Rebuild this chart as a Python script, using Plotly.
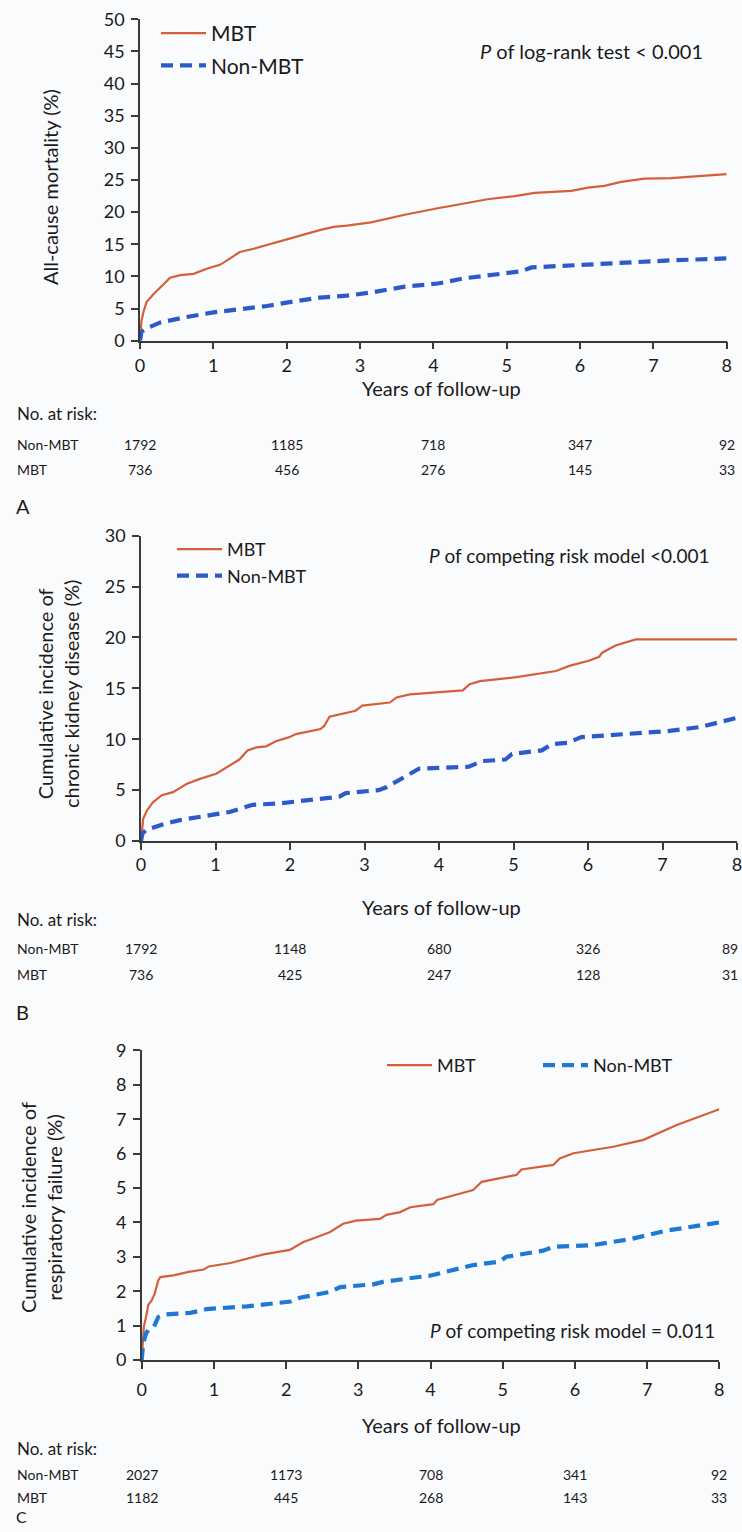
import plotly.graph_objects as go

W, H = 742, 1532
FONT = "Lato"
MBT_COLOR = "#d4603a"
NON_COLOR_AB = "#2d5ac8"
NON_COLOR_C = "#1f78d2"
TXT = "#1a1a1a"
AX = "#3a3a3a"
BG = "#fafbfd"

# ---------------- data ----------------
years_ticks = [0, 1, 2, 3, 4, 5, 6, 7, 8]
risk_years = [0, 2, 4, 6, 8]

# Panel A: all-cause mortality (%)
a_mbt_t = [0, 0.02, 0.05, 0.09, 0.18, 0.32, 0.41, 0.55, 0.73, 0.91, 1.09, 1.23, 1.36, 1.55, 1.73, 1.95,
           2.18, 2.45, 2.64, 2.82, 3.15, 3.38, 3.61, 4.06, 4.42, 4.74, 5.11, 5.38, 5.88, 6.11, 6.33,
           6.56, 6.88, 7.24, 8.0]
a_mbt_v = [0, 3.1, 4.6, 6.0, 7.2, 8.8, 9.8, 10.2, 10.4, 11.2, 11.8, 12.8, 13.8, 14.3, 14.9, 15.6,
           16.4, 17.2, 17.7, 17.9, 18.4, 19.0, 19.6, 20.6, 21.3, 22.0, 22.5, 23.0, 23.3, 23.8, 24.1,
           24.7, 25.2, 25.3, 25.9]
a_non_t = [0, 0.02, 0.09, 0.27, 0.59, 1.0, 1.36, 1.73, 2.09, 2.45, 2.82, 3.15, 3.61, 4.06, 4.42,
           4.97, 5.2, 5.34, 5.88, 6.56, 7.24, 8.0]
a_non_v = [0, 1.4, 1.9, 2.8, 3.6, 4.4, 4.9, 5.4, 6.1, 6.7, 7.0, 7.5, 8.4, 8.9, 9.7,
           10.5, 10.8, 11.4, 11.7, 12.2, 12.5, 12.8]
a_risk_non = ["1792", "1185", "718", "347", "92"]
a_risk_mbt = ["736", "456", "276", "145", "33"]

# Panel B: cumulative incidence of chronic kidney disease (%)
b_mbt_t = [0, 0.01, 0.03, 0.08, 0.16, 0.28, 0.43, 0.61, 0.79, 1.01, 1.19, 1.32, 1.43, 1.55, 1.68,
           1.81, 1.99, 2.08, 2.41, 2.46, 2.53, 2.88, 2.97, 3.34, 3.43, 3.61, 4.32, 4.41, 4.55, 5.04,
           5.57, 5.75, 6.01, 6.15, 6.19, 6.37, 6.64, 8.0]
b_mbt_v = [0, 1.1, 2.2, 3.0, 3.8, 4.5, 4.8, 5.6, 6.1, 6.6, 7.4, 8.0, 8.9, 9.2, 9.3,
           9.8, 10.2, 10.5, 11.0, 11.3, 12.2, 12.8, 13.3, 13.6, 14.1, 14.4, 14.8, 15.4, 15.7, 16.1,
           16.7, 17.2, 17.7, 18.1, 18.5, 19.2, 19.8, 19.8]
b_non_t = [0, 0.02, 0.07, 0.30, 0.52, 0.74, 0.92, 1.19, 1.32, 1.50, 1.86, 2.21, 2.53, 2.66, 2.75,
           2.97, 3.19, 3.30, 3.56, 3.73, 4.40, 4.58, 4.89, 4.98, 5.38, 5.51, 5.73, 5.91, 7.07, 7.51, 8.0]
b_non_v = [0, 0.75, 1.1, 1.65, 2.05, 2.3, 2.6, 2.85, 3.15, 3.55, 3.7, 3.95, 4.2, 4.35, 4.7,
           4.9, 5.0, 5.3, 6.4, 7.1, 7.3, 7.85, 8.0, 8.55, 8.9, 9.5, 9.65, 10.2, 10.8, 11.2, 12.1]
b_risk_non = ["1792", "1148", "680", "326", "89"]
b_risk_mbt = ["736", "425", "247", "128", "31"]

# Panel C: cumulative incidence of respiratory failure (%)
c_mbt_t = [0, 0.01, 0.03, 0.07, 0.09, 0.14, 0.18, 0.23, 0.26, 0.44, 0.65, 0.86, 0.93, 1.23, 1.46,
           1.69, 2.05, 2.15, 2.24, 2.42, 2.61, 2.79, 2.97, 3.30, 3.39, 3.58, 3.72, 4.04, 4.09, 4.59,
           4.71, 5.19, 5.26, 5.70, 5.79, 5.98, 6.53, 6.95, 7.41, 8.0]
c_mbt_v = [0, 0.3, 0.97, 1.35, 1.6, 1.74, 1.93, 2.32, 2.41, 2.46, 2.56, 2.63, 2.72, 2.82, 2.94,
           3.07, 3.2, 3.31, 3.43, 3.57, 3.72, 3.96, 4.05, 4.1, 4.22, 4.3, 4.44, 4.53, 4.65, 4.94,
           5.18, 5.38, 5.54, 5.67, 5.86, 6.01, 6.2, 6.4, 6.83, 7.29]
c_non_t = [0, 0.02, 0.06, 0.09, 0.17, 0.23, 0.30, 0.67, 0.81, 0.90, 1.46, 1.83, 2.06, 2.19, 2.61,
           2.75, 3.21, 3.34, 3.58, 3.76, 3.99, 4.59, 4.96, 5.05, 5.56, 5.70, 6.25, 6.76, 7.27, 8.0]
c_non_v = [0, 0.48, 0.77, 0.87, 0.97, 1.25, 1.32, 1.37, 1.43, 1.48, 1.56, 1.66, 1.70, 1.81, 1.98,
           2.12, 2.20, 2.27, 2.35, 2.39, 2.45, 2.76, 2.86, 3.0, 3.18, 3.29, 3.34, 3.51, 3.76, 4.0]
c_risk_non = ["2027", "1173", "708", "341", "92"]
c_risk_mbt = ["1182", "445", "268", "143", "33"]

# ---------------- helpers ----------------
def px(x):
    return x / W

def py(y):
    return 1 - y / H

fig = go.Figure()

panels = [
    dict(ax="", x0=140, x1=726.7, ytop=19.3, ybot=340.7, yr=[0, 50], dt=5, non_col=NON_COLOR_AB,
         mbt=(a_mbt_t, a_mbt_v), non=(a_non_t, a_non_v), legend="legend", stand=1),
    dict(ax="2", x0=141, x1=737, ytop=535.6, ybot=841, yr=[0, 30], dt=5, non_col=NON_COLOR_AB,
         mbt=(b_mbt_t, b_mbt_v), non=(b_non_t, b_non_v), legend="legend2", stand=0),
    dict(ax="3", x0=141.7, x1=719.3, ytop=1050.4, ybot=1360, yr=[0, 9], dt=1, non_col=NON_COLOR_C,
         mbt=(c_mbt_t, c_mbt_v), non=(c_non_t, c_non_v), legend="legend3", stand=6),
]

axis_common = dict(showline=True, linecolor=AX, linewidth=1.5, ticks="outside", ticklen=7,
                   tickcolor=AX, tickwidth=1.5, showgrid=False, zeroline=False, automargin=False,
                   tickfont=dict(family=FONT, size=18, color=TXT), fixedrange=True)

layout_axes = {}
for p in panels:
    a = p["ax"]
    xa = "x" + a
    ya = "y" + a
    fig.add_trace(go.Scatter(x=p["mbt"][0], y=p["mbt"][1], mode="lines", name="MBT",
                             line=dict(color=MBT_COLOR, width=2.2), xaxis=xa, yaxis=ya,
                             legend=p["legend"], legendgroup="m" + a, hoverinfo="skip"))
    fig.add_trace(go.Scatter(x=p["non"][0], y=p["non"][1], mode="lines", name="Non-MBT",
                             line=dict(color=p["non_col"], width=4.2, dash="12px,7px"),
                             xaxis=xa, yaxis=ya, legend=p["legend"], legendgroup="n" + a,
                             hoverinfo="skip"))
    layout_axes["xaxis" + a] = dict(axis_common, domain=[px(p["x0"]), px(p["x1"])], range=[0, 8],
                                    tickvals=years_ticks, anchor=ya, ticklabelstandoff=p["stand"],
                                    ticklabeloverflow="allow")
    layout_axes["yaxis" + a] = dict(axis_common, domain=[py(p["ybot"]), py(p["ytop"])],
                                    range=p["yr"], dtick=p["dt"], tick0=0, anchor=xa,
                                    ticklabelstandoff=3)

fig.update_layout(**layout_axes)

fig.update_layout(
    width=W, height=H, margin=dict(l=0, r=0, t=0, b=0, autoexpand=False),
    paper_bgcolor=BG, plot_bgcolor=BG,
    font=dict(family=FONT, color=TXT),
    legend=dict(x=px(156), y=py(13), xanchor="left", yanchor="top", bgcolor="rgba(0,0,0,0)",
                font=dict(family=FONT, size=21, color=TXT), itemwidth=45, tracegroupgap=2),
    legend2=dict(x=px(172), y=py(531), xanchor="left", yanchor="top", bgcolor="rgba(0,0,0,0)",
                 font=dict(family=FONT, size=18, color=TXT), itemwidth=45, tracegroupgap=0),
    legend3=dict(x=px(382), y=py(1047), xanchor="left", yanchor="top", bgcolor="rgba(0,0,0,0)",
                 orientation="h", entrywidth=96, entrywidthmode="pixels",
                 font=dict(family=FONT, size=18, color=TXT), itemwidth=45),
)

ann = []

def text(x, y, s, size, xanchor="left", xref="paper", angle=0, yanchor="middle"):
    ann.append(dict(x=x if xref != "paper" else px(x), y=py(y), xref=xref, yref="paper", text=s,
                    showarrow=False, xanchor=xanchor, yanchor=yanchor, textangle=angle,
                    font=dict(family=FONT, size=size, color=TXT)))

# y-axis titles
text(50, 187, "All-cause mortality (%)", 20, xanchor="center", angle=-90)
text(58, 694, "Cumulative incidence of<br>chronic kidney disease (%)", 20, xanchor="center", angle=-90)
text(41, 1208, "Cumulative incidence of<br>respiratory failure (%)", 20, xanchor="center", angle=-90)

# P-value annotations
text(705, 51, "<i>P</i> of log-rank test < 0.001", 20, xanchor="right")
text(711, 556, "<i>P</i> of competing risk model <0.001", 19, xanchor="right")
text(717, 1330, "<i>P</i> of competing risk model = 0.011", 19, xanchor="right")

# x titles
for yy in (388, 907, 1425):
    text(441, yy, "Years of follow-up", 20, xanchor="center")

# risk tables
tables = [
    ("x", 414, 445, 470, a_risk_non, a_risk_mbt, "A", 506, 20),
    ("x2", 919, 948, 974, b_risk_non, b_risk_mbt, "B", 1012, 20),
    ("x3", 1448, 1474, 1497, c_risk_non, c_risk_mbt, "C", 1516, 16),
]
for xr, y_no, y_non, y_mbt, rn, rm, letter, y_let, lsize in tables:
    text(15, y_no, "No. at risk:", 17)
    text(15, y_non, "Non-MBT", 14)
    text(15, y_mbt, "MBT", 14)
    for yr_, vn, vm in zip(risk_years, rn, rm):
        edge = (xr == "x2" and yr_ == 8)
        for val, yy in ((vn, y_non), (vm, y_mbt)):
            ann.append(dict(x=yr_, y=py(yy), xref=xr, yref="paper", text=val, showarrow=False,
                            xanchor="right" if edge else "center", xshift=3 if edge else 0,
                            yanchor="middle", font=dict(family=FONT, size=14, color=TXT)))
    text(14, y_let, letter, lsize)

fig.update_layout(annotations=ann)

fig.write_html(
    "out.html",
    config={"displayModeBar": False},
    post_script="document.body.style.margin='0px';document.body.style.overflow='hidden';",
)
